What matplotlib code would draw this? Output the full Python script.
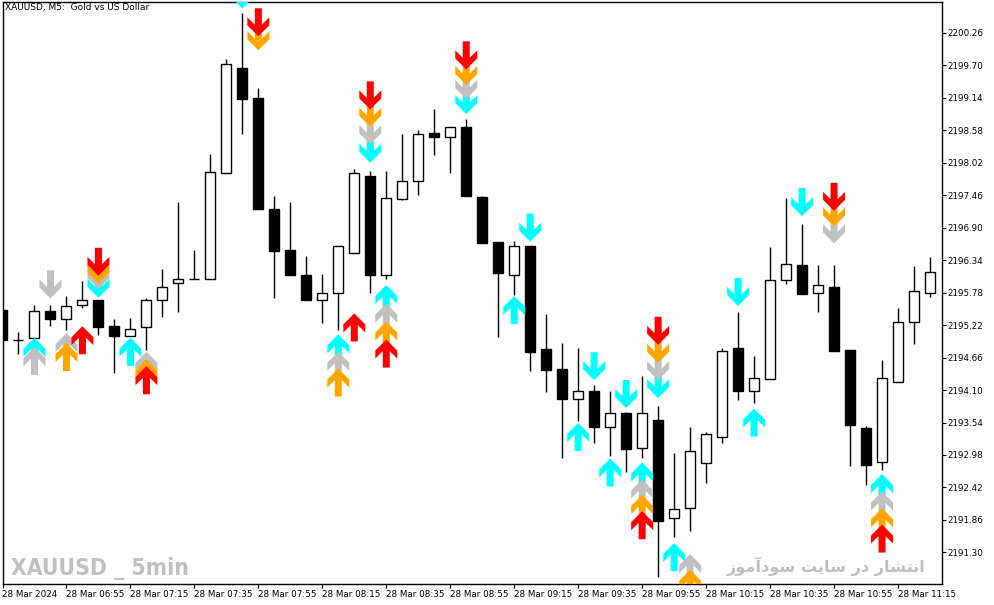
import numpy as np
import matplotlib as mpl
mpl.use('Agg')
import matplotlib.pyplot as plt
from matplotlib import font_manager
from matplotlib.patches import Polygon

# XAUUSD 5 minute bars, 28 Mar 2024 06:35 .. 11:25
opens = [2195.48, 2194.97, 2195.00, 2195.47, 2195.32, 2195.56, 2195.65, 2195.20, 2195.03, 2195.18,
         2195.66, 2195.94, 2196.01, 2196.01, 2197.84, 2199.66, 2199.13, 2197.23, 2196.51, 2196.09,
         2195.66, 2195.78, 2196.47, 2197.79, 2196.09, 2197.40, 2197.70, 2198.53, 2198.46, 2198.63,
         2197.43, 2196.65, 2196.08, 2196.58, 2194.80, 2194.46, 2193.95, 2194.08, 2193.47, 2193.70,
         2193.10, 2193.58, 2191.89, 2192.06, 2192.85, 2193.29, 2194.82, 2194.09, 2194.29, 2195.99,
         2196.26, 2195.77, 2195.88, 2194.79, 2193.45, 2192.86, 2194.23, 2195.28, 2195.78]
highs = [2195.48, 2195.10, 2195.57, 2195.57, 2195.72, 2195.98, 2195.66, 2195.32, 2195.35, 2195.68,
         2196.19, 2197.34, 2196.51, 2198.17, 2199.81, 2200.60, 2199.30, 2197.44, 2197.34, 2196.41,
         2196.10, 2196.58, 2197.91, 2197.88, 2197.88, 2198.51, 2198.58, 2198.94, 2198.63, 2198.77,
         2197.45, 2196.65, 2196.67, 2196.58, 2195.41, 2194.91, 2194.82, 2194.19, 2194.08, 2193.72,
         2194.34, 2193.82, 2193.01, 2193.46, 2193.37, 2194.83, 2195.44, 2194.69, 2196.56, 2197.41,
         2196.96, 2196.26, 2196.26, 2194.79, 2193.48, 2194.62, 2195.52, 2196.24, 2196.40]
lows = [2194.97, 2194.72, 2194.99, 2195.21, 2195.13, 2195.52, 2195.05, 2194.40, 2195.03, 2194.79,
        2195.36, 2195.45, 2196.01, 2196.01, 2197.84, 2198.51, 2197.23, 2195.69, 2196.08, 2195.66,
        2195.26, 2195.13, 2196.47, 2195.78, 2196.01, 2197.38, 2197.47, 2198.15, 2197.85, 2197.45,
        2196.64, 2195.02, 2195.74, 2194.42, 2194.06, 2192.92, 2193.57, 2193.19, 2192.96, 2192.69,
        2192.92, 2190.87, 2191.56, 2191.67, 2192.49, 2193.18, 2193.92, 2193.87, 2194.29, 2195.92,
        2195.75, 2195.45, 2194.77, 2192.79, 2192.47, 2192.72, 2194.23, 2194.89, 2195.71]
closes = [2194.97, 2194.97, 2195.47, 2195.32, 2195.55, 2195.66, 2195.19, 2195.03, 2195.15, 2195.66,
          2195.87, 2196.01, 2196.01, 2197.86, 2199.72, 2199.12, 2197.23, 2196.50, 2196.08, 2195.66,
          2195.78, 2196.58, 2197.84, 2196.08, 2197.41, 2197.70, 2198.51, 2198.47, 2198.63, 2197.45,
          2196.64, 2196.11, 2196.58, 2194.76, 2194.44, 2193.94, 2194.08, 2193.46, 2193.70, 2193.09,
          2193.70, 2191.85, 2192.05, 2193.04, 2193.35, 2194.78, 2194.09, 2194.30, 2196.00, 2196.27,
          2195.76, 2195.91, 2194.77, 2193.50, 2192.81, 2194.30, 2195.28, 2195.80, 2196.13]

time_labels = ['28 Mar 2024', '28 Mar 06:55', '28 Mar 07:15', '28 Mar 07:35', '28 Mar 07:55',
               '28 Mar 08:15', '28 Mar 08:35', '28 Mar 08:55', '28 Mar 09:15', '28 Mar 09:35',
               '28 Mar 09:55', '28 Mar 10:15', '28 Mar 10:35', '28 Mar 10:55', '28 Mar 11:15']

# signal arrows: bar index and price of the arrow tip
cyan_up_bars = [2, 8, 21, 24, 32, 36, 38, 40, 42, 47, 55]
cyan_up_px = [2195.00, 2195.00, 2195.06, 2195.91, 2195.72, 2193.53, 2192.92, 2192.85, 2191.46, 2193.78, 2192.65]
silver_up_bars = [2, 4, 9, 21, 24, 40, 43, 55]
silver_up_px = [2194.84, 2195.08, 2194.76, 2194.76, 2195.59, 2192.56, 2191.27, 2192.35]
orange_up_bars = [4, 9, 21, 24, 40, 43, 55]
orange_up_px = [2194.91, 2194.63, 2194.47, 2195.28, 2192.29, 2191.00, 2192.06]
red_up_bars = [5, 9, 22, 24, 40, 55]
red_up_px = [2195.20, 2194.51, 2195.42, 2194.97, 2192.01, 2191.78]

cyan_dn_bars = [6, 15, 23, 29, 33, 37, 39, 41, 46, 50]
cyan_dn_px = [2195.69, 2200.68, 2198.02, 2198.86, 2196.66, 2194.27, 2193.79, 2193.96, 2195.55, 2197.10]
silver_dn_bars = [3, 6, 23, 29, 41, 52]
silver_dn_px = [2195.68, 2195.84, 2198.34, 2199.12, 2194.27, 2196.63]
orange_dn_bars = [6, 16, 23, 29, 41, 52]
orange_dn_px = [2195.94, 2199.96, 2198.64, 2199.36, 2194.57, 2196.92]
red_dn_bars = [6, 16, 23, 29, 41, 52]
red_dn_px = [2196.07, 2200.20, 2198.94, 2199.63, 2194.88, 2197.19]

W, H = 994, 605
L, R, T, B = 2.5, 941.5, 1.5, 584   # plot frame in pixels

fig = plt.figure(figsize=(W / 100, H / 100), dpi=100)
ax = fig.add_axes([L / W, (H - B) / H, (R - L) / W, (B - T) / H])
x0, x1 = (L - 2) / 16, (R - 2) / 16
y0, y1 = 2190.755, 2200.80
ax.set_xlim(x0, x1)
ax.set_ylim(y0, y1)

# pixel -> data scale, used for the arrow glyphs
sx = (x1 - x0) / (R - L)
sy = (y1 - y0) / (B - T)

# candles
idx = np.arange(len(opens))
o = np.array(opens)
c = np.array(closes)
ax.vlines(idx, lows, highs, color='black', lw=1, zorder=2)
up = c >= o
ax.bar(idx[up], (c - o)[up], bottom=o[up], width=0.625, color='white',
       edgecolor='black', lw=1, zorder=3)
ax.bar(idx[~up], (o - c)[~up], bottom=c[~up], width=0.625, color='black',
       edgecolor='black', lw=1, zorder=3)

# arrow outline (along, across) in pixels, tip at origin
shape = [(0, 0), (11, 11), (19, 11), (11.5, 3.5), (28, 3.5), (28, -3.5),
         (11.5, -3.5), (19, -11), (11, -11)]


def draw_arrows(bars, tips, color, direction, z):
    for b, p in zip(bars, tips):
        pts = [(b + v * sx, p - direction * u * sy) for u, v in shape]
        ax.add_patch(Polygon(pts, closed=True, facecolor=color, edgecolor='none',
                             zorder=z, clip_on=True))


draw_arrows(cyan_up_bars, cyan_up_px, '#00ffff', 1, 4)
draw_arrows(silver_up_bars, silver_up_px, '#c0c0c0', 1, 5)
draw_arrows(orange_up_bars, orange_up_px, '#ffa500', 1, 6)
draw_arrows(red_up_bars, red_up_px, '#ff0000', 1, 7)
draw_arrows(cyan_dn_bars, cyan_dn_px, '#00ffff', -1, 4)
draw_arrows(silver_dn_bars, silver_dn_px, '#c0c0c0', -1, 5)
draw_arrows(orange_dn_bars, orange_dn_px, '#ffa500', -1, 6)
draw_arrows(red_dn_bars, red_dn_px, '#ff0000', -1, 7)

# axes and ticks
for s in ax.spines.values():
    s.set_color('black')
    s.set_linewidth(1)
ax.yaxis.tick_right()
yt = [2191.30 + 0.56 * i for i in range(17)]
ax.set_yticks(yt)
ax.set_yticklabels(['%.2f' % v for v in yt])
ax.set_xticks(np.arange(0, 60, 4)[:len(time_labels)])
ax.set_xticklabels(time_labels)
ax.tick_params(axis='both', direction='out', length=3, width=0.8, labelsize=6.3, pad=1.5)
for lab in ax.get_xticklabels():
    lab.set_horizontalalignment('left')

fig.text(5 / W, 1 - 3 / H, 'XAUUSD, M5:  Gold vs US Dollar', fontsize=6.5, va='top', ha='left')


# pick a narrow bold face for the symbol watermark if one is installed
def narrow_font():
    best = None
    for f in font_manager.fontManager.ttflist:
        narrowish = ('Narrow' in f.name or 'Condensed' in f.name
                     or f.stretch in ('condensed', 'semi-condensed', 'extra-condensed'))
        if not narrowish:
            continue
        w = f.weight if isinstance(f.weight, int) else (700 if 'bold' in str(f.weight) else 400)
        score = abs(w - 700)
        if best is None or score < best[0]:
            best = (score, f.fname)
    if best:
        return font_manager.FontProperties(fname=best[1])
    return font_manager.FontProperties(family='DejaVu Sans', weight='bold')


def fit_width(t, target_px, size):
    r = fig.canvas.get_renderer()
    t.set_fontsize(size)
    w = t.get_window_extent(r).width
    t.set_fontsize(size * target_px / w)


# watermarks
wm = ax.text(8 / (R - L), (B - 575) / (B - T), 'XAUUSD _ 5min', transform=ax.transAxes,
             fontproperties=narrow_font(), color='#c0c0c0', ha='left', va='baseline', zorder=1)
fit_width(wm, 178, 21)

fa = ('\uFEAF\uFEEE\uFEE3\uFE81\uFEA9\uFEEE\uFEB3 \uFE96\uFEF3\uFE8E\uFEB3 '
      '\uFEAD\uFEA9 \uFEAD\uFE8E\uFEB8\uFE98\uFEE7\uFE8D')
fa_t = ax.text((925 - L) / (R - L), (B - 572) / (B - T), fa, transform=ax.transAxes,
               family=['DejaVu Sans'], fontweight='bold',
               color='#bebebe', ha='right', va='baseline', zorder=1)
fit_width(fa_t, 200, 14)

fig.savefig('out.png', dpi=100, facecolor='white')
